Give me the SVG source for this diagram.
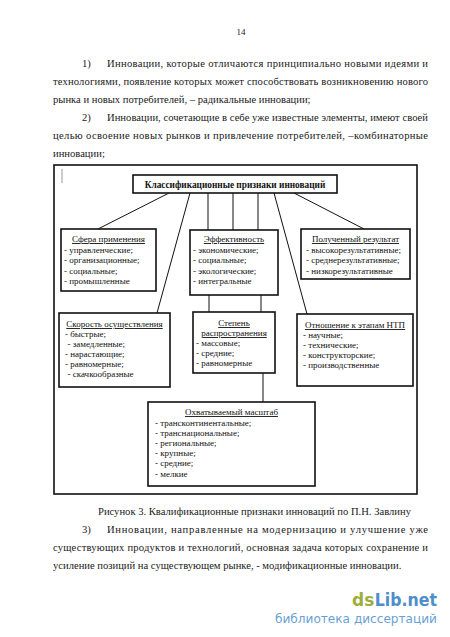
<svg xmlns="http://www.w3.org/2000/svg" width="450" height="637" viewBox="0 0 450 637">
<style>
.p{font-family:"Liberation Serif","Times New Roman",serif;font-size:10.6px;fill:#1a1a1a}
.d{font-family:"Liberation Serif","Times New Roman",serif;font-size:9px;fill:#111}
.c{text-anchor:middle}
.u{text-decoration:underline}
.box{fill:#fff;stroke:#111;stroke-width:1.6}
.ln{stroke:#111;stroke-width:1;fill:none}
.wm{font-family:"DejaVu Sans",sans-serif;font-weight:bold;font-size:17px}
</style>
<rect width="450" height="637" fill="#fff"/>
<g id="page-text">
<text class="p c" x="241" y="35" style="font-size:9px">14</text>
<text class="p" x="82" y="66.5">1)</text>
<text class="p" x="107" y="66.5" textLength="321" lengthAdjust="spacing">Инновации, которые отличаются принципиально новыми идеями и</text>
<text class="p" x="53" y="84.6" textLength="375" lengthAdjust="spacing">технологиями, появление которых может способствовать возникновению нового</text>
<text class="p" x="53" y="102.7">рынка и новых потребителей, – радикальные инновации;</text>
<text class="p" x="82" y="120.8">2)</text>
<text class="p" x="107" y="120.8" textLength="321" lengthAdjust="spacing">Инновации, сочетающие в себе уже известные элементы, имеют своей</text>
<text class="p" x="53" y="138.9" textLength="375" lengthAdjust="spacing">целью освоение новых рынков и привлечение потребителей, –комбинаторные</text>
<text class="p" x="53" y="157">инновации;</text>
<text class="p" x="98" y="514.5">Рисунок 3. Квалификационные признаки инноваций по П.Н. Завлину</text>
<text class="p" x="82" y="532.6">3)</text>
<text class="p" x="107" y="532.6" textLength="321" lengthAdjust="spacing">Инновации, направленные на модернизацию и улучшение уже</text>
<text class="p" x="53" y="550.7" textLength="375" lengthAdjust="spacing">существующих продуктов и технологий, основная задача которых сохранение и</text>
<text class="p" x="53" y="568.8">усиление позиций на существующем рынке, - модификационные инновации.</text>
</g>
<g id="frame">
<rect x="54" y="165" width="363" height="329" fill="none" stroke="#111" stroke-width="1.6"/>
<line x1="62" y1="169" x2="62" y2="183" stroke="#999" stroke-width="1"/>
</g>
<g id="connectors">
<line class="ln" x1="169" y1="193" x2="98" y2="229"/>
<line class="ln" x1="190" y1="193" x2="157" y2="313"/>
<line class="ln" x1="208" y1="193" x2="208" y2="230"/>
<line class="ln" x1="233" y1="193" x2="233" y2="230"/>
<line class="ln" x1="258" y1="193" x2="258" y2="230"/>
<line class="ln" x1="274" y1="193" x2="307" y2="314"/>
<line class="ln" x1="294" y1="193" x2="364" y2="229"/>
<line class="ln" x1="209" y1="295" x2="209" y2="312"/>
<line class="ln" x1="261" y1="295" x2="261" y2="312"/>
<line class="ln" x1="263" y1="373" x2="263" y2="402"/>
</g>
<g id="title">
<rect class="box" x="133" y="175" width="204" height="18"/>
<text class="d c" x="235" y="187.5" style="font-weight:bold;font-size:9.3px">Классификационные признаки инноваций</text>
</g>
<g id="sfera">
<rect class="box" x="61" y="229" width="95" height="62"/>
<text class="d c u" x="108.5" y="242">Сфера применения</text>
<text class="d" x="64" y="252.5">-  управленческие;</text>
<text class="d" x="64" y="263">- организационные;</text>
<text class="d" x="64" y="273.5">- социальные;</text>
<text class="d" x="64" y="284">- промышленные</text>
</g>
<g id="effekt">
<rect class="box" x="190" y="230" width="88" height="65"/>
<text class="d c u" x="234" y="242">Эффективность</text>
<text class="d" x="193" y="252.5">- экономические;</text>
<text class="d" x="193" y="263">- социальные;</text>
<text class="d" x="193" y="273.5">- экологические;</text>
<text class="d" x="193" y="284">- интегральные</text>
</g>
<g id="rezultat">
<rect class="box" x="301" y="229" width="109" height="50"/>
<text class="d c u" x="355.5" y="242">Полученный результат</text>
<text class="d" x="306" y="252.5">- высокорезультативные;</text>
<text class="d" x="306" y="263">- среднерезультативные;</text>
<text class="d" x="306" y="273.5">- низкорезультативные</text>
</g>
<g id="skorost">
<rect class="box" x="59" y="313" width="111" height="74"/>
<text class="d c u" x="114.5" y="327">Скорость осуществления</text>
<text class="d" x="65" y="337">- быстрые;</text>
<text class="d" x="67.5" y="347">- замедленные;</text>
<text class="d" x="65" y="357">- нарастающие;</text>
<text class="d" x="65" y="367">- равномерные;</text>
<text class="d" x="67.5" y="377">- скачкообразные</text>
</g>
<g id="stepen">
<rect class="box" x="193" y="312" width="82" height="61"/>
<text class="d c u" x="234" y="326">Степень</text>
<text class="d c u" x="234" y="336">распространения</text>
<text class="d" x="196" y="346">- массовые;</text>
<text class="d" x="196" y="356">- средние;</text>
<text class="d" x="196" y="366">- равномерные</text>
</g>
<g id="otnoshenie">
<rect class="box" x="297" y="314" width="116" height="72"/>
<text class="d c u" x="355" y="328">Отношение к этапам НТП</text>
<text class="d" x="303" y="338">- научные;</text>
<text class="d" x="303" y="348">- технические;</text>
<text class="d" x="303" y="358">- конструкторские;</text>
<text class="d" x="303" y="368">- производственные</text>
</g>
<g id="masshtab">
<rect class="box" x="148" y="402" width="167" height="84"/>
<text class="d c u" x="231.5" y="415">Охватываемый масштаб</text>
<text class="d" x="155" y="425.5">- трансконтинентальные;</text>
<text class="d" x="155" y="435.7">- транснациональные;</text>
<text class="d" x="155" y="445.9">- региональные;</text>
<text class="d" x="155" y="456.1">- крупные;</text>
<text class="d" x="155" y="466.3">- средние;</text>
<text class="d" x="155" y="476.5">- мелкие</text>
</g>
<g id="watermark">
<text class="wm" x="352" y="606" fill="#9cae3e">ds</text>
<text class="wm" x="374.8" y="606" fill="#4f8dcb" textLength="62.2" lengthAdjust="spacingAndGlyphs">Lib.net</text>
<text x="275" y="622.5" textLength="162" lengthAdjust="spacingAndGlyphs" style="font-family:'DejaVu Sans',sans-serif;font-size:12px;fill:#6a9fd4">библиотека диссертаций</text>
</g>
</svg>
